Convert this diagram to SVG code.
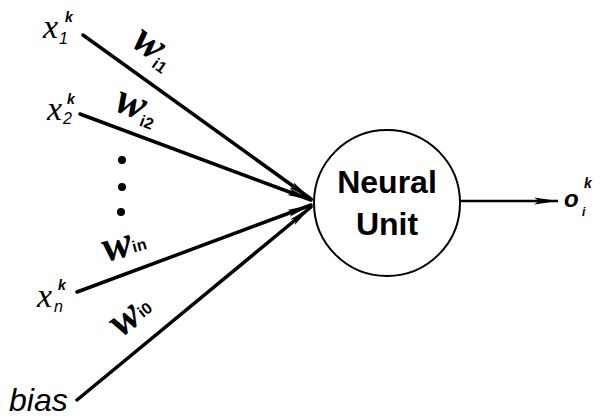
<svg xmlns="http://www.w3.org/2000/svg" width="600" height="417" viewBox="0 0 600 417">
<defs>
<style>
.ln{stroke:#000;stroke-width:3.5;fill:none;stroke-linecap:round}
.out{stroke:#000;stroke-width:2.5;fill:none}
.w{font-family:"Liberation Serif","DejaVu Serif",serif;font-style:italic;font-weight:bold;font-size:44px;fill:#000}
.ws{font-family:"Liberation Sans","DejaVu Sans",sans-serif;font-style:normal;font-weight:bold;font-size:16px}
.x{font-family:"Liberation Serif","DejaVu Serif",serif;font-style:italic;font-size:34px;fill:#000}
.sub{font-family:"Liberation Sans","DejaVu Sans",sans-serif;font-style:italic;font-size:16px;fill:#000}
.sup{font-family:"Liberation Sans","DejaVu Sans",sans-serif;font-style:italic;font-weight:bold;font-size:14px;fill:#000}
.unit{font-family:"Liberation Sans","DejaVu Sans",sans-serif;font-weight:bold;font-size:32px;fill:#000;text-anchor:middle}
.bias{font-family:"Liberation Sans","DejaVu Sans",sans-serif;font-style:italic;font-size:32px;fill:#000}
.o{font-family:"Liberation Sans","DejaVu Sans",sans-serif;font-style:italic;font-weight:bold;font-size:24px;fill:#000}
</style>
<marker id="ah" viewBox="0 0 24 10" refX="24" refY="5" markerWidth="24" markerHeight="10" orient="auto" markerUnits="userSpaceOnUse">
<path d="M0,1.5 L24,5 L0,8.5 L5,5 Z" fill="#000"/>
</marker>
</defs>
<rect width="600" height="417" fill="#fff"/>
<g id="connectors">
<line class="ln" x1="83" y1="35" x2="311" y2="199" marker-end="url(#ah)"/>
<line class="ln" x1="80" y1="114" x2="311" y2="200" marker-end="url(#ah)"/>
<line class="ln" x1="77" y1="292" x2="311" y2="205" marker-end="url(#ah)"/>
<line class="ln" x1="77" y1="400" x2="311" y2="207" marker-end="url(#ah)"/>
<line class="out" x1="460" y1="201" x2="558" y2="201" marker-end="url(#ah)"/>
</g>
<g id="weights">
<text class="w" transform="translate(130,45) rotate(36)">w<tspan class="ws" dy="5">i1</tspan></text>
<text class="w" transform="translate(113,110) rotate(21)">w<tspan class="ws" dy="5">i2</tspan></text>
<text class="w" transform="translate(106,262) rotate(-15)">w<tspan class="ws" dy="-2">in</tspan></text>
<text class="w" transform="translate(121,338) rotate(-38)">w<tspan class="ws" dy="-2">i0</tspan></text>
</g>
<g id="input-x1">
<text class="x" x="43" y="38">x</text>
<text class="sub" x="59" y="44">1</text>
<text class="sup" x="65" y="22">k</text>
</g>
<g id="input-x2">
<text class="x" x="47" y="120">x</text>
<text class="sub" x="63" y="124">2</text>
<text class="sup" x="67" y="104">k</text>
</g>
<g id="dots">
<circle cx="122" cy="160" r="4"/>
<circle cx="122" cy="187" r="4"/>
<circle cx="121" cy="212" r="4"/>
</g>
<g id="input-xn">
<text class="x" x="37" y="307">x</text>
<text class="sub" x="54" y="312">n</text>
<text class="sup" x="58" y="290">k</text>
</g>
<g id="bias">
<text class="bias" x="9" y="411">bias</text>
</g>
<g id="neural-unit">
<circle cx="387" cy="203" r="73" fill="#fff" stroke="#000" stroke-width="2"/>
<text class="unit" x="387" y="193">Neural</text>
<text class="unit" x="387" y="235">Unit</text>
</g>
<g id="output">
<text class="o" x="564" y="207">o</text>
<text class="sub" x="582" y="216" style="font-size:12px;font-weight:bold">i</text>
<text class="sup" x="584" y="188">k</text>
</g>
</svg>
